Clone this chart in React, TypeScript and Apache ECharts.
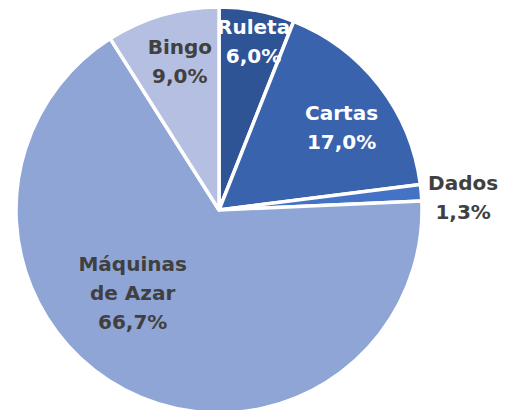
import React, { useEffect, useRef } from "react";
import * as echarts from "echarts";

const categories = ["Ruleta", "Cartas", "Dados", "Máquinas\nde Azar", "Bingo"];
const values = [6.0, 17.0, 1.3, 66.7, 9.0];
const colors = ["#2f5496", "#3a63ad", "#4472c4", "#8fa5d5", "#b4bfe2"];
const labelColors = ["#ffffff", "#ffffff", "#404040", "#404040", "#404040"];
const labelOffsets: [number, number][] = [
  [15, -66],
  [40, -18],
  [140, -4],
  [-38, -10],
  [-10, -48],
];

export default function App() {
  const ref = useRef<HTMLDivElement>(null);
  useEffect(() => {
    document.body.style.margin = "0";
    const chart = echarts.init(ref.current!, undefined, { renderer: "svg" });
    chart.setOption({
      animation: false,
      backgroundColor: "#ffffff",
      series: [
        {
          type: "pie",
          center: [219, 210],
          radius: [0, 203],
          startAngle: 90,
          clockwise: true,
          avoidLabelOverlap: false,
          labelLine: { show: false },
          itemStyle: { borderColor: "#ffffff", borderWidth: 3.5 },
          data: categories.map((name, i) => ({
            name,
            value: values[i],
            itemStyle: { color: colors[i] },
            label: {
              show: true,
              position: "inside",
              color: labelColors[i],
              offset: labelOffsets[i],
            },
          })),
          label: {
            fontFamily: "DejaVu Sans",
            fontWeight: "bold",
            fontSize: 20,
            lineHeight: 29,
            formatter: (p: any) =>
              `${p.name}\n${p.value.toFixed(1).replace(".", ",")}%`,
          },
        },
      ],
    });
    return () => chart.dispose();
  }, []);
  return <div ref={ref} style={{ width: 512, height: 410 }} />;
}
